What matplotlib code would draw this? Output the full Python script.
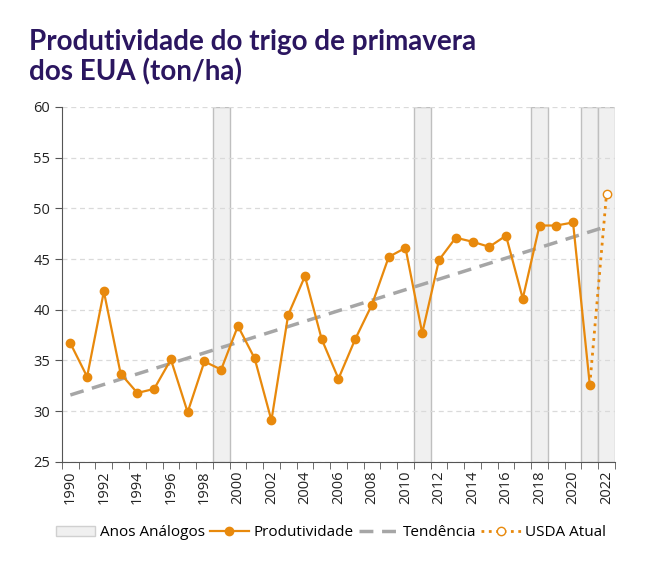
import numpy as np
import matplotlib.pyplot as plt
from matplotlib.patches import Patch
from matplotlib.lines import Line2D

plt.rcParams["font.family"] = ["Open Sans", "DejaVu Sans"]

# Data
years = list(range(1990, 2022))
produtividade = [36.7, 33.4, 41.8, 33.7, 31.8, 32.2, 35.1, 29.9, 34.9, 34.1,
                 38.4, 35.2, 29.1, 39.5, 43.3, 37.1, 33.2, 37.1, 40.5, 45.2,
                 46.1, 37.7, 44.9, 47.1, 46.7, 46.2, 47.3, 41.1, 48.3, 48.3,
                 48.6, 32.6]
usda_years = [2021, 2022]
usda_values = [32.6, 51.45]
trend_years = [1990, 2022]
trend_values = [31.6, 48.2]
analog_years = [1999, 2011, 2018, 2021, 2022]

orange = "#E8890C"
grey_trend = "#A6A6A6"
title_color = "#2B1660"

fig = plt.figure(figsize=(6.49, 5.62), dpi=100)
ax = fig.add_axes([0.0955, 0.178, 0.852, 0.632])

# Analog year bands
for y in analog_years:
    ax.axvspan(y - 0.5, y + 0.5, facecolor="#F0F0F0", edgecolor="#BFBFBF",
               linewidth=1, zorder=0)

ax.plot(trend_years, trend_values, color=grey_trend, linestyle=(0, (4, 2.5)),
        linewidth=2.5, zorder=2)
ax.plot(usda_years, usda_values, color=orange, linestyle=":", linewidth=2,
        zorder=3)
ax.plot(usda_years[-1], usda_values[-1], marker="o", markersize=6,
        markerfacecolor="white", markeredgecolor=orange, zorder=4)
ax.plot(years, produtividade, color=orange, linewidth=1.6, marker="o",
        markersize=6, zorder=4)

ax.set_ylim(25, 60)
ax.set_yticks(range(25, 61, 5))
ax.set_xlim(1989.5, 2022.5)
ax.set_xticks(range(1990, 2023, 2))
ax.set_xticklabels([str(y) for y in range(1990, 2023, 2)], rotation=90)
ax.set_xticks(np.arange(1989.5, 2023, 1), minor=True)
ax.tick_params(axis="x", which="major", length=0, pad=6)
ax.tick_params(axis="x", which="minor", length=5, color="#555555")
ax.tick_params(axis="y", length=5, color="#555555")
ax.tick_params(labelsize=10.5, labelcolor="#222222")

ax.grid(axis="y", linestyle=(0, (4, 3)), color="#DADADA", linewidth=0.9)
ax.set_axisbelow(True)
for s in ["top", "right"]:
    ax.spines[s].set_visible(False)
for s in ["left", "bottom"]:
    ax.spines[s].set_color("#555555")

fig.text(0.045, 0.898, "Produtividade do trigo de primavera\ndos EUA (ton/ha)",
         fontsize=20, fontweight="bold", color=title_color, family="Lato",
         ha="left", va="center", linespacing=1.15)

handles = [
    Patch(facecolor="#F0F0F0", edgecolor="#D0D0D0", label="Anos Análogos"),
    Line2D([], [], color=orange, linewidth=1.6, marker="o", markersize=6,
           label="Produtividade"),
    Line2D([], [], color=grey_trend, linestyle=(0, (4, 2.5)), linewidth=2.5,
           label="Tendência"),
    Line2D([], [], color=orange, linestyle=":", linewidth=2, marker="o",
           markersize=6, markerfacecolor="white", label="USDA Atual"),
]
fig.legend(handles=handles, loc="center", bbox_to_anchor=(0.51, 0.052), ncol=4,
           frameon=False, fontsize=11, handlelength=2.6, handletextpad=0.3,
           columnspacing=0.3)

fig.savefig("out.png", dpi=100)
